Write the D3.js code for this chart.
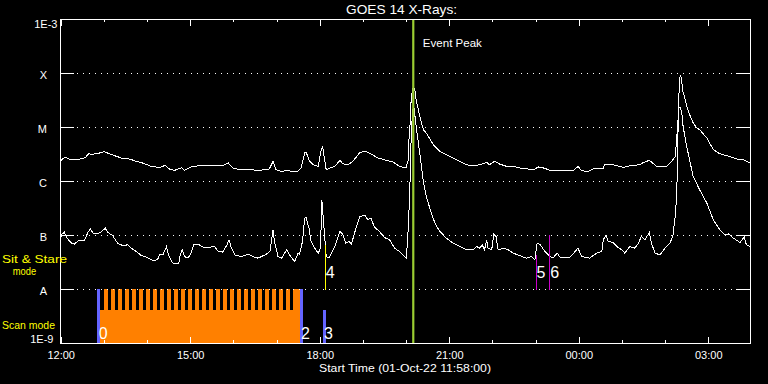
<!DOCTYPE html>
<html><head><meta charset="utf-8">
<script src="https://cdn.jsdelivr.net/npm/d3@7"></script>
<style>
html,body{margin:0;padding:0;background:#000;}
svg{display:block;}
text{font-family:"Liberation Sans",Arial,sans-serif;}
</style>
</head><body>
<svg id="c" width="768" height="384"></svg>
<script>
// ---------------- DATA ----------------
const titleText = "GOES 14 X-Rays:";
const xTitleText = "Start Time (01-Oct-22 11:58:00)";
const yTickValues = [1e-3, 1e-4, 1e-5, 1e-6, 1e-7, 1e-8, 1e-9];
const yTickLabels = ["1E-3", "X", "M", "C", "B", "A", "1E-9"];
const gridLevels = [1e-4, 1e-5, 1e-6, 1e-7, 1e-8];
const xMajorTicks = ["12:00", "15:00", "18:00", "21:00", "00:00", "03:00"];
const xMinorTicks = ["12:00","13:00","14:00","15:00","16:00","17:00","18:00","19:00","20:00","21:00","22:00","23:00","00:00","01:00","02:00","03:00"];

// GOES long channel (1-8 A), upper curve
const longTimes = ["11:59","12:01","12:06","12:12","12:17","12:26","12:34","12:39","12:42","12:49","12:54","13:01","13:05","13:15","13:26","13:36","13:45","13:54","14:06","14:17","14:25","14:31","14:38","14:48","14:52","15:01","15:13","15:31","15:45","15:53","15:59","16:09","16:23","16:36","16:50","16:55","16:59","17:07","17:14","17:28","17:34","17:39","17:41","17:46","17:51","17:58","18:01","18:04","18:06","18:09","18:14","18:21","18:28","18:32","18:39","18:46","18:56","19:03","19:09","19:21","19:33","19:42","19:51","20:00","20:03","20:04","20:06","20:07","20:09","20:12","20:14","20:19","20:24","20:28","20:38","20:47","20:56","21:05","21:15","21:24","21:33","21:42","21:52","21:56","22:03","22:10","22:20","22:29","22:38","22:57","23:04","23:11","23:22","23:34","23:52","23:59","00:04","00:13","00:20","00:34","00:36","00:48","01:02","01:11","01:25","01:30","01:38","01:44","01:48","02:02","02:09","02:14","02:16","02:18","02:20","02:21","02:23","02:24","02:27","02:30","02:35","02:39","02:44","02:48","02:58","03:07","03:16","03:26","03:40","03:49","03:58"];
const longFlux = [2.25e-6,2.48e-6,2.74e-6,2.55e-6,2.48e-6,2.55e-6,2.70e-6,3.20e-6,3.11e-6,3.20e-6,3.30e-6,3.49e-6,3.30e-6,2.94e-6,2.62e-6,2.55e-6,2.31e-6,2.15e-6,1.86e-6,1.78e-6,1.94e-6,1.67e-6,1.57e-6,1.76e-6,1.57e-6,1.82e-6,1.92e-6,1.92e-6,1.92e-6,2.15e-6,1.74e-6,1.62e-6,1.62e-6,1.57e-6,1.67e-6,2.31e-6,1.62e-6,1.50e-6,1.57e-6,1.47e-6,1.74e-6,3.30e-6,3.44e-6,2.31e-6,2.00e-6,1.86e-6,3.30e-6,4.38e-6,2.85e-6,1.62e-6,1.74e-6,1.86e-6,2.41e-6,2.09e-6,2.00e-6,2.31e-6,3.39e-6,3.53e-6,3.30e-6,2.67e-6,2.41e-6,2.25e-6,1.86e-6,1.74e-6,2.48e-6,5.82e-6,1.37e-5,3.21e-5,5.07e-5,5.07e-5,3.21e-5,1.58e-5,8.93e-6,7.76e-6,4.70e-6,3.53e-6,3.07e-6,2.67e-6,2.31e-6,2.00e-6,1.92e-6,2.00e-6,2.21e-6,2.00e-6,2.31e-6,2.06e-6,1.86e-6,1.86e-6,1.74e-6,1.62e-6,1.82e-6,1.74e-6,1.55e-6,1.57e-6,1.55e-6,1.86e-6,1.55e-6,1.50e-6,1.67e-6,1.69e-6,2.06e-6,2.00e-6,1.78e-6,1.92e-6,2.00e-6,2.21e-6,2.41e-6,2.09e-6,1.86e-6,1.86e-6,2.31e-6,2.85e-6,5.82e-6,1.37e-5,7.55e-5,8.84e-5,8.12e-5,4.93e-5,3.70e-5,2.41e-5,1.58e-5,1.19e-5,9.60e-6,8.93e-6,6.26e-6,3.80e-6,3.20e-6,2.94e-6,2.55e-6,2.48e-6,2.15e-6];

// GOES short channel (0.5-4 A), lower curve
const shortTimes = ["11:59","12:01","12:05","12:08","12:15","12:19","12:24","12:33","12:38","12:41","12:45","12:49","12:56","13:02","13:05","13:12","13:19","13:26","13:33","13:38","13:45","13:52","13:59","14:06","14:10","14:15","14:18","14:22","14:27","14:29","14:34","14:38","14:44","14:46","14:49","14:52","14:57","15:01","15:05","15:11","15:18","15:27","15:34","15:38","15:45","15:51","15:54","15:57","16:02","16:11","16:18","16:23","16:27","16:34","16:39","16:46","16:51","16:55","16:57","17:02","17:07","17:14","17:18","17:25","17:30","17:32","17:36","17:39","17:41","17:45","17:48","17:53","17:58","18:01","18:03","18:06","18:09","18:13","18:16","18:21","18:25","18:28","18:32","18:36","18:41","18:44","18:51","18:56","19:03","19:07","19:11","19:16","19:23","19:30","19:37","19:44","19:51","20:00","20:01","20:03","20:05","20:07","20:09","20:11","20:14","20:19","20:24","20:28","20:33","20:40","20:47","20:56","21:05","21:15","21:24","21:33","21:38","21:42","21:46","21:49","21:52","21:54","21:59","22:02","22:05","22:08","22:15","22:22","22:29","22:38","22:47","22:54","22:59","23:02","23:06","23:13","23:20","23:24","23:30","23:34","23:48","23:59","00:04","00:15","00:25","00:32","00:34","00:38","00:41","00:48","00:53","01:00","01:04","01:11","01:18","01:23","01:27","01:32","01:38","01:41","01:46","01:53","02:00","02:07","02:11","02:14","02:16","02:17","02:18","02:19","02:21","02:23","02:25","02:30","02:35","02:39","02:48","02:58","03:07","03:16","03:23","03:28","03:35","03:44","03:50","03:53","03:58"];
const shortFlux = [7.57e-8,1.01e-7,1.13e-7,8.98e-8,7.07e-8,6.77e-8,7.80e-8,7.90e-8,1.13e-7,1.30e-7,1.08e-7,1.04e-7,1.13e-7,1.34e-7,1.13e-7,9.78e-8,7.07e-8,6.38e-8,6.57e-8,5.71e-8,4.94e-8,4.16e-8,3.89e-8,3.46e-8,3.32e-8,3.61e-8,4.42e-8,4.29e-8,6.11e-8,4.61e-8,3.22e-8,2.92e-8,2.99e-8,4.29e-8,5.31e-8,3.99e-8,3.73e-8,4.61e-8,6.57e-8,6.77e-8,5.96e-8,5.96e-8,6.11e-8,5.09e-8,4.81e-8,6.57e-8,8.14e-8,5.86e-8,4.29e-8,3.99e-8,4.29e-8,4.29e-8,3.99e-8,3.73e-8,3.99e-8,4.42e-8,5.09e-8,1.25e-7,7.57e-8,3.99e-8,3.73e-8,5.31e-8,4.29e-8,3.22e-8,4.61e-8,4.42e-8,7.57e-8,2.06e-7,2.11e-7,1.34e-7,7.57e-8,5.71e-8,4.61e-8,5.71e-8,4.40e-7,1.34e-7,3.99e-8,3.73e-8,4.61e-8,6.11e-8,8.75e-8,1.16e-7,1.04e-7,7.07e-8,7.57e-8,6.77e-8,1.44e-7,2.20e-7,2.30e-7,1.91e-7,2.06e-7,1.40e-7,1.16e-7,8.98e-8,8.14e-8,5.71e-8,4.94e-8,3.73e-8,4.94e-8,1.34e-7,5.56e-7,5.82e-6,2.10e-5,2.29e-5,1.03e-5,3.30e-6,9.81e-7,5.17e-7,3.15e-7,1.66e-7,1.16e-7,8.75e-8,7.07e-8,6.11e-8,5.31e-8,5.31e-8,6.11e-8,5.71e-8,6.57e-8,5.31e-8,8.14e-8,5.71e-8,5.31e-8,1.04e-7,9.37e-8,5.31e-8,5.71e-8,5.31e-8,4.61e-8,4.16e-8,3.73e-8,3.99e-8,3.46e-8,6.86e-8,6.77e-8,4.94e-8,3.99e-8,3.73e-8,4.61e-8,3.89e-8,3.89e-8,5.71e-8,3.99e-8,3.73e-8,4.61e-8,4.94e-8,8.14e-8,9.78e-8,7.57e-8,7.25e-8,6.11e-8,5.31e-8,4.61e-8,6.11e-8,5.71e-8,7.07e-8,9.37e-8,8.14e-8,1.11e-7,7.07e-8,4.61e-8,4.29e-8,5.71e-8,7.07e-8,1.01e-7,2.20e-7,5.17e-7,1.62e-6,8.93e-6,2.29e-5,2.29e-5,1.93e-5,1.03e-5,4.38e-6,2.15e-6,1.22e-6,6.89e-7,3.90e-7,1.91e-7,1.25e-7,1.01e-7,1.05e-7,8.75e-8,7.25e-8,9.14e-8,6.57e-8,6.11e-8];

// Event peak
const eventPeakLabel = "Event Peak";
const eventPeakTime = "20:10";

// Scan-mode observations
const scanBodyStart = "12:55";
const scanBodyEnd = "17:33";
const scanBodyTop = 4.1e-9;
const scanStarts = ["12:59:30","13:09:14","13:18:58","13:28:42","13:38:26","13:48:10","13:57:54","14:07:38","14:17:22","14:27:06","14:36:50","14:46:34","14:56:18","15:06:02","15:15:46","15:25:30","15:35:14","15:44:58","15:54:42","16:04:26","16:14:10","16:23:54","16:33:38","16:43:22","16:53:06","17:02:50","17:12:34","17:22:18"];
const scanEnds = ["13:05:04","13:14:48","13:24:32","13:34:16","13:44:00","13:53:44","14:03:28","14:13:12","14:22:56","14:32:40","14:42:24","14:52:08","15:01:52","15:11:36","15:21:20","15:31:04","15:40:48","15:50:32","16:00:16","16:10:00","16:19:44","16:29:28","16:39:12","16:48:56","16:58:40","17:08:24","17:18:08","17:32:00"];
const scanTop = 1e-8;
const scanMarkLabels = ["0", "2", "3"];
const scanMarkTimes = ["12:53", "17:34", "18:06"];
const scanMarkTops = [1e-8, 1e-8, 4.1e-9];

// Sit & stare observations
const sitMarkLabels = ["4", "5", "6"];
const sitMarkTimes = ["18:07", "23:00", "23:19"];
const sitMarkTops = [6.6e-8, 4.3e-8, 1.0e-7];

// ---------------- STYLE / LAYOUT ----------------
const sitColors = ["#ffff00", "#cc00cc", "#cc00cc"];
const orange = "#ff8000", blue = "#6464ff", green = "#9acd32", yellow = "#ffff00";

function parseT(s) {
  const p = s.split(":").map(Number);
  const h = p[0];
  return new Date(2022, 9, h < 11 ? 2 : 1, h, p[1], p[2] || 0);
}

const svg = d3.select("#c");
svg.append("rect").attr("width", 768).attr("height", 384).attr("fill", "#000");

const x = d3.scaleTime()
  .domain([new Date(2022, 9, 1, 11, 59), new Date(2022, 9, 2, 3, 58)])
  .range([60, 750]);
const y = d3.scaleLog().domain([1e-9, 1e-3]).range([343, 19]);

svg.append("defs").append("clipPath").attr("id", "clip")
  .append("rect").attr("x", 60).attr("y", 19).attr("width", 691).attr("height", 325);

// Scan mode bars
const scanG = svg.append("g").attr("clip-path", "url(#clip)").attr("shape-rendering", "crispEdges");
scanG.append("rect")
  .attr("x", x(parseT(scanBodyStart)))
  .attr("width", x(parseT(scanBodyEnd)) - x(parseT(scanBodyStart)))
  .attr("y", y(scanBodyTop))
  .attr("height", y(1e-9) - y(scanBodyTop))
  .attr("fill", orange);
scanG.selectAll("rect.tooth").data(d3.zip(scanStarts, scanEnds)).join("rect")
  .attr("class", "tooth")
  .attr("x", d => x(parseT(d[0])))
  .attr("width", d => x(parseT(d[1])) - x(parseT(d[0])))
  .attr("y", y(scanTop))
  .attr("height", y(1e-9) - y(scanTop))
  .attr("fill", orange);
scanG.selectAll("rect.mark").data(d3.range(scanMarkTimes.length)).join("rect")
  .attr("class", "mark")
  .attr("x", i => x(parseT(scanMarkTimes[i])) - 1.5)
  .attr("width", 3)
  .attr("y", i => y(scanMarkTops[i]))
  .attr("height", i => y(1e-9) - y(scanMarkTops[i]))
  .attr("fill", blue);

// grid
svg.append("g").attr("shape-rendering", "crispEdges")
  .selectAll("line").data(gridLevels).join("line")
  .attr("x1", 77).attr("x2", 734)
  .attr("y1", d => y(d) + 0.5).attr("y2", d => y(d) + 0.5)
  .attr("stroke", "#fff").attr("stroke-width", 1).attr("stroke-dasharray", "1 5");

// curves
const line = d3.line().x(d => x(d[0])).y(d => y(d[1]));
const longData = longTimes.map((t, i) => [parseT(t), longFlux[i]]);
const shortData = shortTimes.map((t, i) => [parseT(t), shortFlux[i]]);
const curveG = svg.append("g").attr("clip-path", "url(#clip)");
[longData, shortData].forEach(data => {
  curveG.append("path").datum(data).attr("d", line)
    .attr("fill", "none").attr("stroke", "#fff").attr("stroke-width", 1)
    .attr("stroke-linejoin", "miter").attr("shape-rendering", "crispEdges");
});

// sit & stare marks
const sitG = svg.append("g");
sitG.selectAll("line").data(d3.range(sitMarkTimes.length)).join("line")
  .attr("x1", i => Math.round(x(parseT(sitMarkTimes[i]))) + 0.5)
  .attr("x2", i => Math.round(x(parseT(sitMarkTimes[i]))) + 0.5)
  .attr("y1", i => y(sitMarkTops[i]))
  .attr("y2", y(1e-8) + 0.5)
  .attr("stroke", (i) => sitColors[i]).attr("stroke-width", 1)
  .attr("shape-rendering", "crispEdges");
sitG.selectAll("text").data(d3.range(sitMarkLabels.length)).join("text")
  .attr("x", i => x(parseT(sitMarkTimes[i])) + 1)
  .attr("y", y(1e-8) - 11)
  .attr("font-size", 16).attr("fill", "#fff")
  .text(i => sitMarkLabels[i]);

// scan mark labels
svg.append("g").selectAll("text").data(d3.range(scanMarkLabels.length)).join("text")
  .attr("x", i => x(parseT(scanMarkTimes[i])))
  .attr("y", y(1e-9) - 4)
  .attr("font-size", 16).attr("fill", "#fff")
  .text(i => scanMarkLabels[i]);

// event peak
const px = x(parseT(eventPeakTime));
svg.append("line").attr("x1", px).attr("x2", px).attr("y1", 19).attr("y2", 343.5)
  .attr("stroke", green).attr("stroke-width", 2.2);
svg.append("text").attr("x", px + 9.6).attr("y", 47.3)
  .attr("font-size", 11).attr("fill", "#fff")
  .attr("textLength", 59).attr("lengthAdjust", "spacingAndGlyphs")
  .text(eventPeakLabel);

// axes
const majorDates = xMajorTicks.map(parseT);
const minorDates = xMinorTicks.map(parseT);
function styleAxis(g) {
  g.attr("shape-rendering", "crispEdges");
  g.selectAll("path,line").attr("stroke", "#fff").attr("stroke-width", 1);
  g.selectAll("text").attr("fill", "#fff").attr("font-size", 11)
    .attr("font-family", "Liberation Sans, Arial, sans-serif");
}
// bottom minor
svg.append("g").attr("transform", "translate(0,343)")
  .call(d3.axisBottom(x).tickValues(minorDates).tickSize(-3).tickSizeOuter(0).tickFormat(""))
  .call(styleAxis);
// bottom major with labels
svg.append("g").attr("transform", "translate(0,343)")
  .call(d3.axisBottom(x).tickValues(majorDates).tickSize(-6).tickSizeOuter(0)
    .tickPadding(8.5).tickFormat(d3.timeFormat("%H:%M")))
  .call(styleAxis);
// top
svg.append("g").attr("transform", "translate(0,19)")
  .call(d3.axisTop(x).tickValues(minorDates).tickSize(-3).tickSizeOuter(0).tickFormat(""))
  .call(styleAxis);
svg.append("g").attr("transform", "translate(0,19)")
  .call(d3.axisTop(x).tickValues(majorDates).tickSize(-7).tickSizeOuter(0).tickFormat(""))
  .call(styleAxis);
// left
const labelRight = [57.5, 47, 47, 47, 47, 47, 53.5];
const labelDy = [8, 4.8, 4.8, 4.8, 4.8, 4.8, -1];
svg.append("g").attr("transform", "translate(60,0)")
  .call(d3.axisLeft(y).tickValues(yTickValues).tickSize(-14).tickSizeOuter(0)
    .tickFormat((d, i) => yTickLabels[i]))
  .call(styleAxis)
  .call(g => g.selectAll(".tick text")
    .attr("x", (d, i) => labelRight[i] - 60)
    .attr("dy", (d, i) => labelDy[i] + 0.5));
// right
svg.append("g").attr("transform", "translate(750,0)")
  .call(d3.axisRight(y).tickValues(yTickValues).tickSize(-14).tickSizeOuter(0).tickFormat(""))
  .call(styleAxis);

// titles
svg.append("text").attr("x", 401.6).attr("y", 14).attr("text-anchor", "middle")
  .attr("font-size", 13).attr("fill", "#fff")
  .attr("textLength", 111).attr("lengthAdjust", "spacingAndGlyphs")
  .text(titleText);
svg.append("text").attr("x", 319).attr("y", 371.5)
  .attr("font-size", 11).attr("fill", "#fff")
  .attr("textLength", 172).attr("lengthAdjust", "spacingAndGlyphs")
  .text(xTitleText);

// mode labels
svg.append("text").attr("x", 2).attr("y", 262.7).attr("font-size", 11).attr("fill", yellow)
  .attr("textLength", 65).attr("lengthAdjust", "spacingAndGlyphs").text("Sit & Stare");
svg.append("text").attr("x", 12.7).attr("y", 275).attr("font-size", 11).attr("fill", yellow)
  .attr("textLength", 23.5).attr("lengthAdjust", "spacingAndGlyphs").text("mode");
svg.append("text").attr("x", 2).attr("y", 328.5).attr("font-size", 11).attr("fill", yellow)
  .attr("textLength", 53).attr("lengthAdjust", "spacingAndGlyphs").text("Scan mode");
</script>
</body></html>
